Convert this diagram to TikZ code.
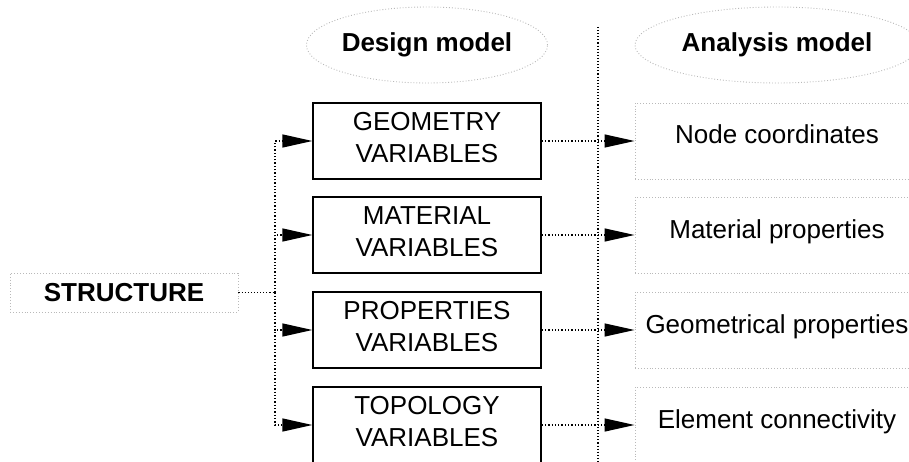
\documentclass[tikz,border=0pt]{standalone}
\usepackage{fontspec}
\setmainfont{Liberation Sans}
\usetikzlibrary{arrows.meta,shapes.geometric}
\begin{document}
\begin{tikzpicture}[x=1pt,y=-1pt,
  font=\fontsize{26}{32}\selectfont,
  dvar/.style={draw=black, line width=1.3pt, minimum width=228pt, minimum height=76pt, inner sep=0pt, align=center, text height=50pt, text depth=7pt},
  avar/.style={draw=gray!55, dotted, line width=0.9pt, minimum width=284pt, minimum height=76pt, inner sep=0pt, text height=18pt, text depth=12pt},
  hdr/.style={ellipse, draw=gray!55, dotted, line width=0.9pt, minimum height=76pt, inner sep=0pt, font=\fontsize{26}{32}\selectfont\bfseries},
  conn/.style={dotted, line width=1.3pt, -{Triangle[length=30pt,width=13pt]}},
  plain/.style={dotted, line width=1.1pt},
]
\useasboundingbox (0,0) rectangle (909,462);
\clip (0,0) rectangle (909,462);

% headers
\node[hdr, minimum width=228pt] (dm) at (427,45) {Design model};
\node[hdr, minimum width=284pt] (am) at (777,45) {Analysis model};

% structure
\node[draw=gray!55, dotted, line width=0.9pt, minimum width=228pt, minimum height=39pt, inner sep=0pt, font=\fontsize{26}{32}\selectfont\bfseries] (S) at (124,292.5) {STRUCTURE};

% design variables
\node[dvar] (g) at (427,141) {GEOMETRY\\VARIABLES};
\node[dvar] (m) at (427,235) {MATERIAL\\VARIABLES};
\node[dvar] (p) at (427,330) {PROPERTIES\\VARIABLES};
\node[dvar] (t) at (427,425) {TOPOLOGY\\VARIABLES};

% analysis model boxes
\node[avar] (nc) at (777,141) {Node coordinates};
\node[avar] (mp) at (777,235) {Material properties};
\node[avar] (gp) at (777,330) {Geometrical properties};
\node[avar] (ec) at (777,425) {Element connectivity};

% separator
\coordinate (vtop) at (598,27);
\coordinate (vbot) at (598,470);
\draw[plain] (vtop) -- (vbot);

% junction
\coordinate (j) at (275,292.5);
\draw[plain] (S.east) -- (j);
\draw[conn] (j) |- (g.west);
\draw[conn] (j) |- (m.west);
\draw[conn] (j) |- (p.west);
\draw[conn] (j) |- (t.west);

% design -> analysis
\draw[conn] (g.east) -- (nc.west);
\draw[conn] (m.east) -- (mp.west);
\draw[conn] (p.east) -- (gp.west);
\draw[conn] (t.east) -- (ec.west);
\end{tikzpicture}
\end{document}
